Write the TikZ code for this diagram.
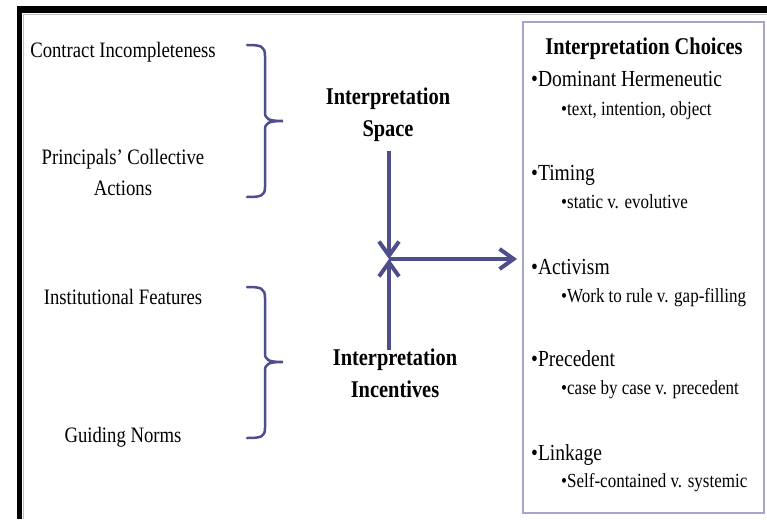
\documentclass[tikz,border=0pt]{standalone}
\usepackage{fontspec}
\setmainfont{Liberation Serif}[FakeStretch=0.85]
\usetikzlibrary{arrows.meta}
\definecolor{ink}{RGB}{78,78,140}
\definecolor{boxline}{RGB}{165,165,205}
\begin{document}
\begin{tikzpicture}[x=1pt,y=-1pt,
  lbl/.style={font=\fontsize{22}{31}\selectfont, inner sep=0pt, align=center},
  hd/.style={font=\fontsize{24}{32}\selectfont\bfseries, inner sep=0pt, align=center},
  item/.style={font=\fontsize{23}{28}\selectfont, inner sep=0pt, anchor=base west},
  sub/.style={font=\fontsize{20}{24}\selectfont, inner sep=0pt, anchor=base west},
  brk/.style={draw=ink, line width=2.5pt, line cap=round},
  arr/.style={draw=ink, line width=4pt, -{Straight Barb[length=14pt,width=20pt]}}]
\fill[white] (0,0) rectangle (767,519);
\useasboundingbox (0,0) rectangle (767,519);
% frame
\fill[black] (17,6) rectangle (767,13);
\fill[black] (17,6) rectangle (22,519);
\draw[black!25, line width=1pt] (23,519) -- (23,14.5) -- (767,14.5);
% choices box
\node[draw=boxline, line width=2pt, minimum width=241pt, minimum height=491pt, inner sep=0pt] (box) at (643.5,267.5) {};
% left labels
\node[lbl, anchor=base] (ci) at (123,57) {Contract Incompleteness};
\node[lbl] (pca) at (123,172) {Principals’ Collective\\Actions};
\node[lbl, anchor=base] (inf) at (123,304) {Institutional Features};
\node[lbl, anchor=base] (gn) at (123,442) {Guiding Norms};
% brackets
\draw[brk] (247,45) .. controls (261,45) and (265,46) .. (265,56) -- (265,112)
  .. controls (265,119) and (268,121) .. (283,121)
  .. controls (268,121) and (265,123) .. (265,130) -- (265,187)
  .. controls (265,196) and (261,197) .. (247,197);
\draw[brk] (247,287) .. controls (261,287) and (265,288) .. (265,298) -- (265,353)
  .. controls (265,360) and (268,362) .. (283,362)
  .. controls (268,362) and (265,364) .. (265,371) -- (265,428)
  .. controls (265,437) and (261,438) .. (247,438);
% centre labels
\node[hd] (space) at (388,115) {Interpretation\\Space};
\node[hd] (inc) at (395,373) {Interpretation\\Incentives};
\coordinate (j) at (389,259);
\draw[arr, shorten <=9pt] (space.south -| j) -- (j);
\draw[arr, shorten <=-2pt] (inc.north -| j) -- (j);
\draw[arr, shorten >=5pt] (j) -- (j -| box.west);
% choices
\node[hd, anchor=base] (ch) at (644,55) {Interpretation Choices};
\node[item] (i1) at (531,86) {•Dominant Hermeneutic};
\node[sub] (s1) at (561,115) {•text, intention, object};
\node[item] (i2) at (531,180) {•Timing};
\node[sub] (s2) at (561,208) {•static v. evolutive};
\node[item] (i3) at (531,274) {•Activism};
\node[sub] (s3) at (561,302) {•Work to rule v. gap-filling};
\node[item] (i4) at (531,366) {•Precedent};
\node[sub] (s4) at (561,394) {•case by case v. precedent};
\node[item] (i5) at (531,460) {•Linkage};
\node[sub] (s5) at (561,487) {•Self-contained v. systemic};
\end{tikzpicture}
\end{document}
